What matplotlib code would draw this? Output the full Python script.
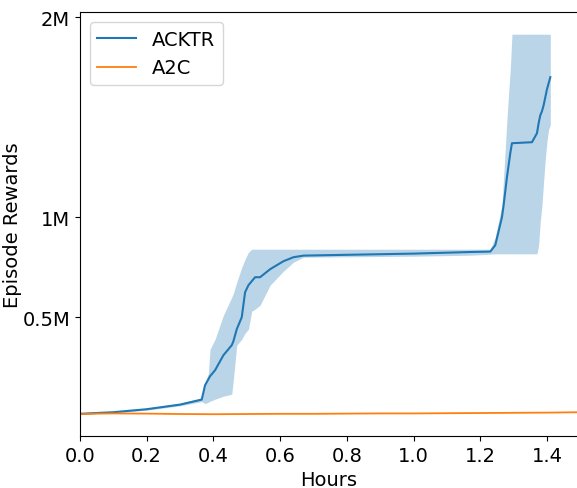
import numpy as np
import matplotlib.pyplot as plt

# ACKTR: mean episode reward and its spread (millions)
acktr_hours = [0.00, 0.10, 0.20, 0.30, 0.365, 0.375, 0.385, 0.39, 0.405, 0.43,
               0.455, 0.46, 0.47, 0.485, 0.495, 0.505, 0.515, 0.525, 0.54, 0.57,
               0.61, 0.64, 0.67, 0.80, 1.00, 1.17, 1.23, 1.245, 1.265, 1.27,
               1.28, 1.285, 1.29, 1.295, 1.355, 1.37, 1.375, 1.38, 1.385, 1.39,
               1.395, 1.40, 1.405, 1.41]
acktr_mean = [0.017, 0.025, 0.040, 0.063, 0.088, 0.160, 0.190, 0.205, 0.235, 0.310,
              0.360, 0.380, 0.440, 0.500, 0.625, 0.660, 0.680, 0.700, 0.700, 0.740,
              0.780, 0.800, 0.808, 0.812, 0.818, 0.826, 0.828, 0.860, 1.000, 1.060,
              1.200, 1.260, 1.320, 1.370, 1.375, 1.420, 1.470, 1.510, 1.530, 1.560,
              1.600, 1.640, 1.670, 1.700]
acktr_low = [0.015, 0.022, 0.035, 0.057, 0.078, 0.068, 0.075, 0.080, 0.090, 0.105,
             0.115, 0.190, 0.360, 0.390, 0.420, 0.440, 0.530, 0.540, 0.560, 0.660,
             0.730, 0.775, 0.800, 0.802, 0.805, 0.810, 0.815, 0.817, 0.817, 0.817,
             0.817, 0.817, 0.817, 0.817, 0.817, 0.817, 0.860, 0.980, 1.060, 1.180,
             1.290, 1.380, 1.440, 1.460]
acktr_high = [0.019, 0.028, 0.045, 0.070, 0.098, 0.170, 0.220, 0.340, 0.390, 0.510,
              0.600, 0.620, 0.675, 0.750, 0.790, 0.825, 0.840, 0.840, 0.840, 0.840,
              0.840, 0.840, 0.840, 0.840, 0.840, 0.840, 0.840, 0.900, 1.060, 1.200,
              1.490, 1.620, 1.740, 1.915, 1.915, 1.915, 1.915, 1.915, 1.915, 1.915,
              1.915, 1.915, 1.915, 1.915]

# A2C stays almost flat
a2c_hours = [0.0, 0.05, 0.1, 0.2, 0.3, 0.4, 0.5, 0.6, 0.7, 0.8, 0.9,
             1.0, 1.1, 1.2, 1.3, 1.4, 1.5]
a2c_mean = [0.015, 0.018, 0.019, 0.018, 0.016, 0.015, 0.016, 0.017, 0.017, 0.018,
            0.019, 0.019, 0.020, 0.021, 0.022, 0.023, 0.025]

y_ticks = [0.5, 1.0, 2.0]
y_tick_labels = ['0.5M', '1M', '2M']
x_ticks = [0.0, 0.2, 0.4, 0.6, 0.8, 1.0, 1.2, 1.4]

fig = plt.figure(figsize=(5.77, 4.89), dpi=100)
ax = fig.add_axes([0.1386, 0.1063, 0.8614, 0.8667])

ax.fill_between(acktr_hours, acktr_low, acktr_high, color='C0', alpha=0.3, linewidth=0)
ax.plot(acktr_hours, acktr_mean, color='C0', linewidth=1.5, label='ACKTR')
ax.plot(a2c_hours, a2c_mean, color='C1', linewidth=1.3, label='A2C')

ax.set_xlim(0, 1.49)
ax.set_ylim(-0.094, 2.025)
ax.set_xticks(x_ticks)
ax.set_xticklabels(['%.1f' % t for t in x_ticks])
ax.set_yticks(y_ticks)
ax.set_yticklabels(y_tick_labels)
ax.tick_params(labelsize=14)
ax.spines['right'].set_visible(False)

ax.set_xlabel('Hours', fontsize=14)
ax.set_ylabel('Episode Rewards', fontsize=14)
ax.yaxis.set_label_coords(-0.117, 0.5)
ax.legend(loc='upper left', fontsize=14)

fig.savefig('out.png', dpi=100)
